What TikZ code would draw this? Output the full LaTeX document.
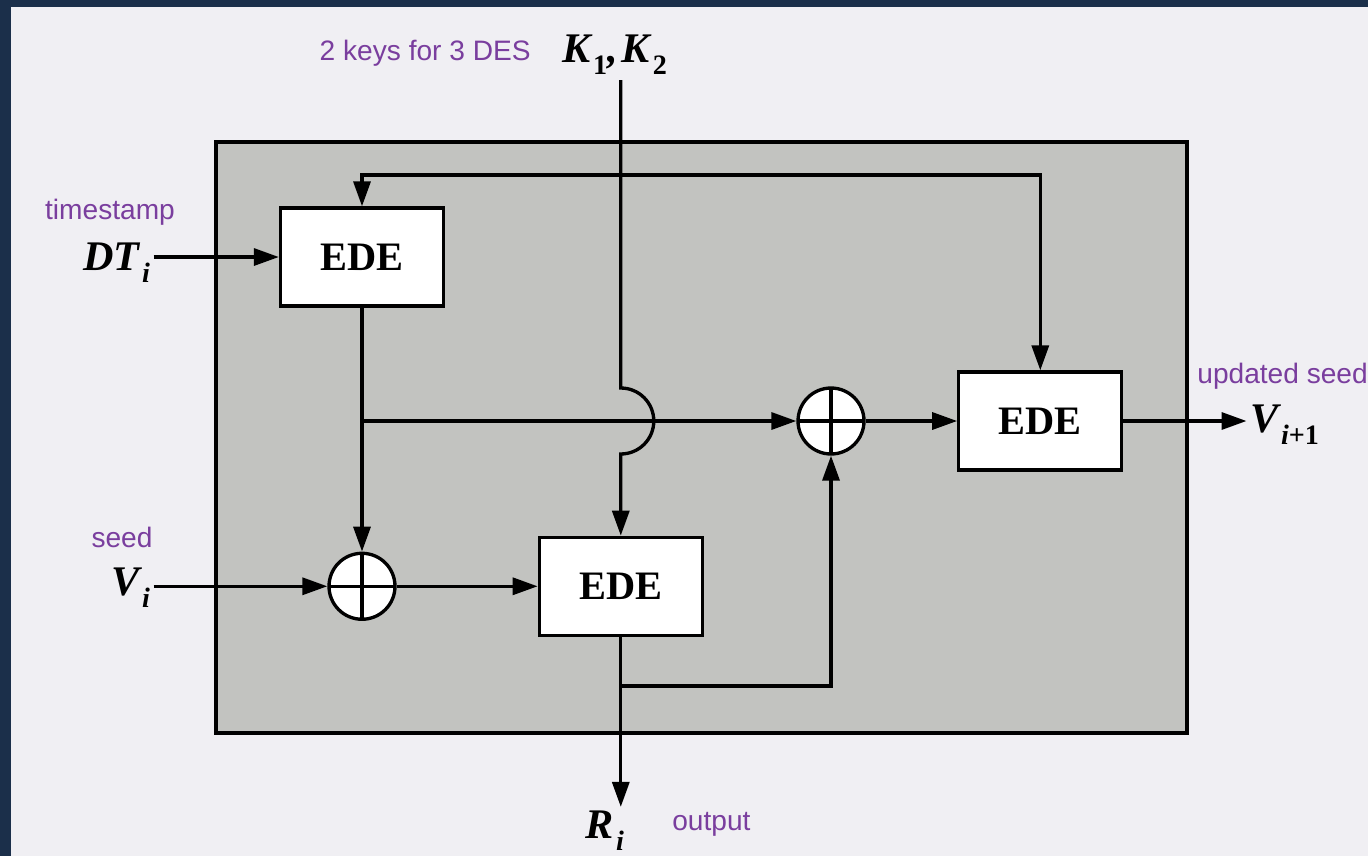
\documentclass[tikz,border=0pt]{standalone}
\usepackage{xcolor}
\usepackage{fontspec}
\setmainfont{Liberation Serif}
\newfontfamily\notefont{Liberation Sans}
\usepackage{tikz}
\usetikzlibrary{positioning, arrows.meta}

\definecolor{slidenavy}{HTML}{1B2F4A}
\definecolor{paper}{HTML}{F0EFF3}
\definecolor{panelgrey}{HTML}{C2C3C0}
\definecolor{notepurple}{HTML}{7A3E9E}

\newcommand{\lowsub}[1]{\hspace{0.07em}\raisebox{-0.3em}{\fontsize{16}{16}\selectfont #1}}

\begin{document}
\begin{tikzpicture}[x=0.02cm, y=-0.02cm,
    edebox/.style={draw, fill=white, line width=1.9pt, minimum width=3.26cm, minimum height=1.96cm, inner sep=0, font=\fontsize{23}{23}\selectfont\bfseries},
    xorsym/.style={draw, circle, fill=white, line width=1.9pt, minimum size=1.32cm, inner sep=0,
        path picture={\draw[line width=1.9pt] (path picture bounding box.north) -- (path picture bounding box.south)
            (path picture bounding box.west) -- (path picture bounding box.east);}},
    notetext/.style={text=notepurple, font=\notefont\fontsize{16}{16}\selectfont, inner sep=0},
    vartext/.style={font=\fontsize{24}{24}\selectfont\bfseries\itshape, inner sep=0, outer sep=2pt},
    flow/.style={-{Triangle[length=0.5cm, width=0.34cm]}, line width=1.9pt},
    flowboth/.style={{Triangle[length=0.5cm, width=0.34cm]}-{Triangle[length=0.5cm, width=0.34cm]}, line width=1.9pt}]

    \useasboundingbox (0,0) rectangle (1368,856);
    \clip (0,0) rectangle (1368,856);

    % Slide and panel
    \fill[slidenavy] (0,0) rectangle (1368,856);
    \fill[paper] (11,7) rectangle (1368,856);
    \draw[fill=panelgrey, line width=1.9pt] (216,142) rectangle (1187,733);

    % Define nodes
    \node (ede1) [edebox] at (362,257) {EDE};
    \node (xor1) [xorsym, below=4.88cm of ede1] {};
    \node (ede2) [edebox, right=2.82cm of xor1] {EDE};
    \node (xor2) [xorsym] at (831,421) {};
    \node (ede3) [edebox, right=1.83cm of xor2] {EDE};

    \node (keynote) [notetext, anchor=base east] at (531,60) {2 keys for 3 DES};
    \node (keys) [vartext, anchor=base west] at (558.5,62) {K\lowsub{\upshape 1},\hspace{0.1em}K\lowsub{\upshape 2}};
    \node (stamp) [notetext, anchor=base] at (110,219) {timestamp};
    \node (dt) [vartext, anchor=base east] at (153.5,270) {DT\lowsub{i}};
    \node (seed) [notetext, anchor=base] at (122,547) {seed};
    \node (vi) [vartext, anchor=base east] at (153.5,595) {V\lowsub{i}};
    \node (newseed) [notetext, anchor=base west] at (1197,383) {updated seed};
    \node (vout) [vartext, anchor=base west] at (1246.5,432) {V\lowsub{i{\upshape +1}}};
    \node (ri) [vartext, anchor=base west] at (581.5,838) {R\lowsub{i}};
    \node (outlbl) [notetext, anchor=base west] at (672,830) {output};

    \coordinate (ktop) at (ede2.north |- 0,80);
    \coordinate (jmp) at (ede2.north |- 0,388);
    \coordinate (fb) at (ede2.north |- 0,175);
    \coordinate [below=0.98cm of ede2] (br);

    % Define connections
    \draw[flow] (ktop) -- (jmp) arc[start angle=90, end angle=-90, radius=0.66cm] -- (ede2.north);
    \draw[flowboth] (ede1.north) |- (fb) -| (ede3.north);
    \draw[flow] (dt.east |- ede1) -- (ede1);
    \draw[flow] (ede1) -- (xor1);
    \draw[flow] (ede1.south |- xor2) -- (xor2);
    \draw[flow] (vi.east |- xor1) -- (xor1);
    \draw[flow] (xor1) -- (ede2);
    \draw[flow] (ede2) -- (ede2 |- ri.north);
    \draw[flow] (br) -| (xor2);
    \draw[flow] (xor2) -- (ede3);
    \draw[flow] (ede3) -- (ede3 -| vout.west);

\end{tikzpicture}
\end{document}
